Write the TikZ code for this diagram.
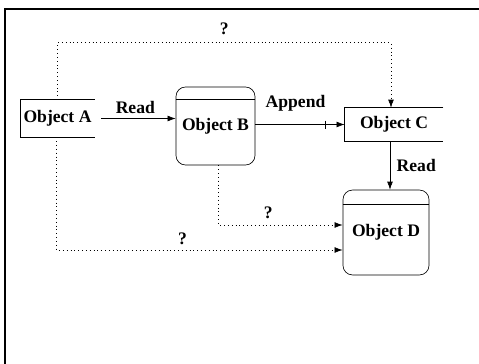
\documentclass[tikz,border=0pt]{standalone}
\usepackage{fontspec}
\setmainfont{Liberation Serif}
\usetikzlibrary{arrows.meta,positioning,calc}
\newcommand{\objfont}{\fontsize{11}{13}\selectfont\bfseries}
\tikzset{
  frame/.style={line width=1.3pt},
  flatstore/.style={rectangle, inner sep=2pt, font=\objfont},
  roundstore/.style={rectangle, draw, thin, rounded corners=6pt, inner sep=2pt, font=\objfont},
  flow/.style={-{Latex[length=5pt,width=3.6pt]}, thin},
  maybe/.style={flow, dotted},
  lbl/.style={font=\objfont, inner sep=1pt},
}
% store open on its right side
\newcommand{\openside}[1]{%
  \draw[thin] (#1.north east) -- (#1.north west) -- (#1.south west) -- (#1.south east);}
% lid line under the top of a rounded store
\newcommand{\lidline}[2]{%
  \draw[thin] ($(#1.north west)+(0,#2)$) -- ($(#1.north east)+(0,#2)$);}

\begin{document}
\begin{tikzpicture}[x=0.625pt, y=-0.625pt]
  \useasboundingbox (0,0) rectangle (479,364);
  \draw[frame] (5,364) -- (5,9) -- (479,9);

  \node[flatstore, minimum width=45.6pt, minimum height=23.1pt] (A) at (57.5,118.5) {Object A};
  \node[roundstore, minimum width=49.4pt, minimum height=48.8pt] (B) at (215.5,126) {Object B};
  \node[flatstore, minimum width=61.3pt, minimum height=20.6pt] (C) at (394,124.5) {Object C};
  \node[roundstore, minimum width=53.8pt, minimum height=53.1pt] (D) at (386,232.5) {Object D};
  \openside{A}
  \openside{C}
  \lidline{B}{13}
  \lidline{D}{15}

  % solid flows
  \draw[flow, shorten <=4pt] (A.east) -- node[lbl, above=2pt] (rdAB) {Read} (B.west |- A.east);
  \draw[flow] (B.east |- C.west) -- node[lbl, above=7pt, pos=0.45] (apBC) {Append} (C.west);
  \coordinate (tk) at ($(C.west)+(-19,0)$);
  \draw[thin] ($(tk)+(0,-4)$) -- ($(tk)+(0,4)$);
  \draw[flow] ($(C.south)+(-4,0)$) -- node[lbl, right=3pt] (rdCD) {Read} ($(C.south |- D.north)+(-4,0)$);

  % dotted flows
  \draw[maybe] (A.north) -- ++(0,-57) -| node[lbl, pos=0.25, above=4pt] (qAC) {?} ($(C.north)+(-3,0)$);
  \draw[maybe] ($(B.south)+(3,0)$) |- node[lbl, pos=0.7, above=3pt] (qBD) {?} ($(D.west)+(0,-7.5)$);
  \draw[maybe] ($(A.south)+(-1,0)$) |- node[lbl, pos=0.72, above=2pt] (qAD) {?} ($(D.west)+(0,17.5)$);
\end{tikzpicture}
\end{document}
